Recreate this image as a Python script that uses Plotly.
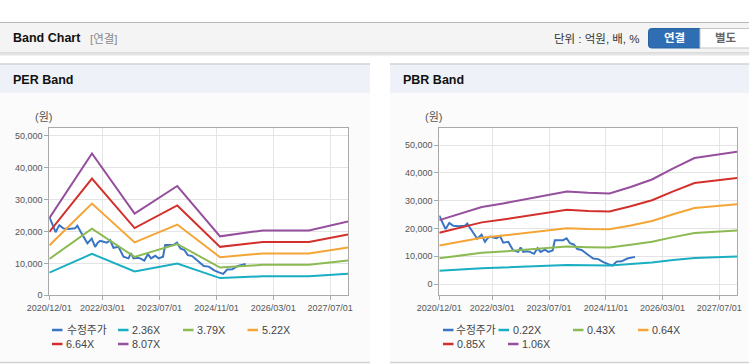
import plotly.graph_objects as go

W, H = 749, 364

# ---------------- data ----------------
series_colors = ["#3a75c4", "#1aaec3", "#8cba52", "#f4a535", "#d3302c", "#964f9c"]

per_names = ["수정주가", "2.36X", "3.79X", "5.22X", "6.64X", "8.07X"]
pbr_names = ["수정주가", "0.22X", "0.43X", "0.64X", "0.85X", "1.06X"]

price_dates = [
    "2020-12-01", "2020-12-20", "2021-01-04", "2021-01-24", "2021-02-10", "2021-02-25",
    "2021-03-31", "2021-05-15", "2021-07-09", "2021-07-29", "2021-08-25", "2021-09-19",
    "2021-10-23", "2021-11-29", "2021-12-28", "2022-01-20", "2022-02-09", "2022-03-10",
    "2022-04-07", "2022-05-06", "2022-06-03", "2022-07-16", "2022-08-28", "2022-10-10",
    "2022-10-30", "2022-11-22", "2022-12-20", "2023-01-18", "2023-02-22", "2023-03-25",
    "2023-04-20", "2023-05-27", "2023-06-25", "2023-08-01", "2023-08-20", "2023-10-31",
    "2023-11-29", "2023-12-28", "2024-01-31", "2024-02-29", "2024-04-06", "2024-06-02",
    "2024-07-15", "2024-08-27", "2024-10-09", "2024-11-21", "2024-12-28", "2025-01-31",
    "2025-03-15", "2025-05-03", "2025-07-08",
]
price_vals = [
    24600, 23000, 22000, 19800, 21000, 22000,
    21000, 20800, 21000, 21800, 20000, 18400,
    16300, 17800, 15200, 16500, 17100, 16800,
    16500, 17300, 14900, 15200, 12100, 11600,
    13200, 11600, 11800, 11600, 10900, 12900,
    11600, 12400, 11600, 12100, 15800, 15800,
    16500, 14700, 14200, 12600, 12300, 10500,
    9200, 9000, 7900, 7200, 6700, 8100,
    8200, 9200, 9800,
]

per_dates = ["2020-12-01", "2021-12-01", "2022-12-01", "2023-12-01", "2024-12-01",
             "2025-12-01", "2027-01-01", "2027-12-01"]
per_236 = [7100, 13000, 7500, 10000, 5400, 5950, 5950, 6800]
per_379 = [11400, 20900, 12050, 16100, 8700, 9550, 9550, 10900]
per_522 = [15650, 28800, 16600, 22200, 11950, 13150, 13150, 15000]
per_664 = [19900, 36600, 21100, 28200, 15200, 16750, 16750, 19050]
per_807 = [24200, 44500, 25650, 34300, 18500, 20350, 20350, 23150]

pbr_dates = ["2020-12-01", "2021-06-01", "2021-12-01", "2022-06-01", "2022-12-01",
             "2023-06-01", "2023-12-01", "2024-06-01", "2024-12-01", "2025-06-01",
             "2025-12-01", "2026-06-01", "2026-12-01", "2027-12-01"]
pbr_022 = [4800, 5300, 5750, 6000, 6350, 6600, 6900, 6800, 6750, 7250, 7800, 8650, 9400, 9900]
pbr_043 = [9350, 10300, 11250, 11750, 12350, 12900, 13500, 13300, 13200, 14150, 15250, 16900, 18400, 19300]
pbr_064 = [13900, 15350, 16700, 17500, 18400, 19200, 20100, 19800, 19700, 21050, 22700, 25100, 27350, 28750]
pbr_085 = [18450, 20350, 22200, 23250, 24450, 25500, 26700, 26300, 26150, 28000, 30150, 33350, 36350, 38150]
pbr_106 = [23000, 25400, 27700, 29000, 30500, 31800, 33300, 32800, 32600, 34900, 37600, 41600, 45300, 47600]

tick_dates = ["2020-12-01", "2022-03-01", "2023-07-01", "2024-11-01", "2026-03-01", "2027-07-01"]
tick_text = ["2020/12/01", "2022/03/01", "2023/07/01", "2024/11/01", "2026/03/01", "2027/07/01"]
y_ticks = [0, 10000, 20000, 30000, 40000, 50000]
y_text = ["0", "10,000", "20,000", "30,000", "40,000", "50,000"]

# ---------------- helpers ----------------
FONT = "Liberation Sans, Arial, Noto Sans CJK KR"


def px(x):
    return x / W


def py(y):
    return 1 - y / H


fig = go.Figure()


def add_chart(xa, ya, band_dates, bands, names):
    fig.add_trace(go.Scatter(x=price_dates, y=price_vals, mode="lines", name=names[0],
                             line=dict(color=series_colors[0], width=2),
                             xaxis=xa, yaxis=ya, showlegend=False))
    for vals, nm, col in zip(bands, names[1:], series_colors[1:]):
        fig.add_trace(go.Scatter(x=band_dates, y=vals, mode="lines", name=nm,
                                 line=dict(color=col, width=2),
                                 xaxis=xa, yaxis=ya, showlegend=False))


add_chart("x", "y", per_dates, [per_236, per_379, per_522, per_664, per_807], per_names)
add_chart("x2", "y2", pbr_dates, [pbr_022, pbr_043, pbr_064, pbr_085, pbr_106], pbr_names)

axis_common = dict(showgrid=True, gridcolor="#e4e4e4", gridwidth=1, zeroline=False,
                   showline=True, linecolor="#a9a9a9", linewidth=1, mirror=True,
                   ticks="outside", ticklen=4, tickcolor="#a9a9a9", automargin=False,
                   tickfont=dict(size=9, color="#555555", family=FONT))

xcommon = dict(axis_common, type="date", range=["2020-12-01", "2027-12-01"],
               tickmode="array", tickvals=tick_dates, ticktext=tick_text)
ycommon = dict(axis_common, tickmode="array", tickvals=y_ticks, ticktext=y_text)

shapes = []
annotations = []

# page chrome
shapes += [
    dict(type="rect", xref="paper", yref="paper", x0=0, x1=1, y0=py(53), y1=py(22),
         fillcolor="#f4f4f4", line=dict(width=0), layer="below"),
    dict(type="line", xref="paper", yref="paper", x0=0, x1=1, y0=py(22.5), y1=py(22.5),
         line=dict(color="#b8b8b8", width=1), layer="below"),
    dict(type="line", xref="paper", yref="paper", x0=0, x1=1, y0=py(53), y1=py(53),
         line=dict(color="#c4c4c4", width=1), layer="below"),
    dict(type="line", xref="paper", yref="paper", x0=0, x1=1, y0=py(54.5), y1=py(54.5),
         line=dict(color="#e4e4e4", width=2), layer="below"),
]
for x0, x1 in [(0, 370), (390, 749)]:
    shapes += [
        dict(type="rect", xref="paper", yref="paper", x0=px(x0), x1=px(x1), y0=py(93), y1=py(64),
             fillcolor="#eef1f7", line=dict(width=0), layer="below"),
        dict(type="line", xref="paper", yref="paper", x0=px(x0), x1=px(x1), y0=py(64), y1=py(64),
             line=dict(color="#d2d2d2", width=1.5), layer="below"),
        dict(type="rect", xref="paper", yref="paper", x0=px(x0), x1=px(x1), y0=py(362), y1=py(93),
             fillcolor="#fbfbfb", line=dict(width=0), layer="below"),
        dict(type="line", xref="paper", yref="paper", x0=px(x0), x1=px(x1), y0=py(362.5), y1=py(362.5),
             line=dict(color="#d2d2d2", width=1.5), layer="below"),
    ]

# white plot area backgrounds
for xr, yr in [("x domain", "y domain"), ("x2 domain", "y2 domain")]:
    shapes.append(dict(type="rect", xref=xr, yref=yr, x0=0, x1=1, y0=0, y1=1,
                       fillcolor="#ffffff", line=dict(width=0), layer="below"))

# buttons
r = 3
bx0, bx1, by0, by1 = 648.5, 700, 28.5, 48
path = (f"M {px(bx0 + r)},{py(by0)} L {px(bx1)},{py(by0)} L {px(bx1)},{py(by1)} "
        f"L {px(bx0 + r)},{py(by1)} Q {px(bx0)},{py(by1)} {px(bx0)},{py(by1 - r)} "
        f"L {px(bx0)},{py(by0 + r)} Q {px(bx0)},{py(by0)} {px(bx0 + r)},{py(by0)} Z")
shapes.append(dict(type="path", xref="paper", yref="paper", path=path,
                   fillcolor="#2f6eb2", line=dict(color="#2a62a0", width=1)))
shapes.append(dict(type="rect", xref="paper", yref="paper", x0=px(700), x1=px(752),
                   y0=py(48), y1=py(28.5), fillcolor="#ffffff", line=dict(color="#c4c4c4", width=1)))


def text(x, y, s, size=12, color="#222", xanchor="left", bold=False, family=FONT):
    if bold:
        s = f"<b>{s}</b>"
    annotations.append(dict(x=px(x), y=py(y), xref="paper", yref="paper", text=s,
                            showarrow=False, xanchor=xanchor, yanchor="middle",
                            font=dict(size=size, color=color, family=family)))


text(11, 38.5, "Band Chart", size=12.5, color="#111", bold=True)
text(88, 39, "[연결]", size=11.5, color="#8a8a8a")
text(642, 39, "단위 : 억원, 배, %", size=11.5, color="#333", xanchor="right")
text(674, 38.5, "연결", size=11.5, color="#ffffff", xanchor="center", bold=True)
text(725.5, 38.5, "별도", size=11.5, color="#666666", xanchor="center", bold=True)
text(11, 79.5, "PER Band", size=12.5, color="#111", bold=True)
text(401, 79.5, "PBR Band", size=12.5, color="#111", bold=True)
text(43, 117.5, "(원)", size=11, color="#555", xanchor="center")
text(434, 117.5, "(원)", size=11, color="#555", xanchor="center")

# custom legends: (symbol x, row y, text gap)
legend_slots = {
    "left": [(52, 330, 13), (118, 330, 12), (183, 330, 12), (247.5, 330, 12), (52, 344, 12), (118, 344, 12)],
    "right": [(443, 330, 10.5), (498.5, 330, 12), (573, 330, 12), (638, 330, 12), (443, 344, 12), (508, 344, 12)],
}
for key, names in [("left", per_names), ("right", pbr_names)]:
    for (lx, ly, gap), nm, col in zip(legend_slots[key], names, series_colors):
        shapes.append(dict(type="line", xref="paper", yref="paper", x0=px(lx), x1=px(lx + 10.5),
                           y0=py(ly), y1=py(ly), line=dict(color=col, width=2.5)))
        text(lx + gap, ly, nm, size=10.8, color="#444")

fig.update_layout(
    width=W, height=H, autosize=False,
    margin=dict(l=0, r=0, t=0, b=0, pad=0, autoexpand=False),
    paper_bgcolor="#ffffff", plot_bgcolor="#ffffff",
    showlegend=False,
    xaxis=dict(xcommon, domain=[px(49.3), px(348)], anchor="y"),
    yaxis=dict(ycommon, domain=[py(295.3), py(128.3)], range=[0, 52400], anchor="x"),
    xaxis2=dict(xcommon, domain=[px(439.3), px(737)], anchor="y2"),
    yaxis2=dict(ycommon, domain=[py(295.3), py(128.3)], range=[-4000, 56000], anchor="x2"),
    shapes=shapes,
    annotations=annotations,
)

fig.write_html("out.html", config={"displayModeBar": False},
               post_script="document.body.style.margin='0';document.body.style.overflow='hidden';")
